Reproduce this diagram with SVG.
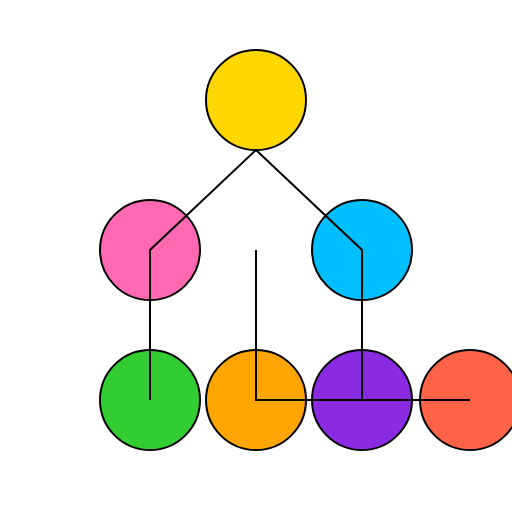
<svg xmlns="http://www.w3.org/2000/svg" width="512" height="512" viewBox="0 0 512 512">
<style>
.n{stroke:#000;stroke-width:2}
.e{stroke:#000;stroke-width:2;fill:none}
</style>
<rect width="512" height="512" fill="#fff"/>
<g id="n-root"><circle class="n" cx="256" cy="100" r="50" fill="#FFD700"/></g>
<g id="n-pink"><circle class="n" cx="150" cy="250" r="50" fill="#FF69B4"/></g>
<g id="n-blue"><circle class="n" cx="362" cy="250" r="50" fill="#00BFFF"/></g>
<g id="n-green"><circle class="n" cx="150" cy="400" r="50" fill="#32CD32"/></g>
<g id="n-orange"><circle class="n" cx="256" cy="400" r="50" fill="#FFA500"/></g>
<g id="n-purple"><circle class="n" cx="362" cy="400" r="50" fill="#8A2BE2"/></g>
<g id="n-red"><circle class="n" cx="470" cy="400" r="50" fill="#FF6347"/></g>
<g id="connectors">
<path class="e" d="M256 150L150 250L150 400"/>
<path class="e" d="M256 150L362 250L362 400"/>
<path class="e" d="M256 250L256 400L470 400"/>
</g>
</svg>
